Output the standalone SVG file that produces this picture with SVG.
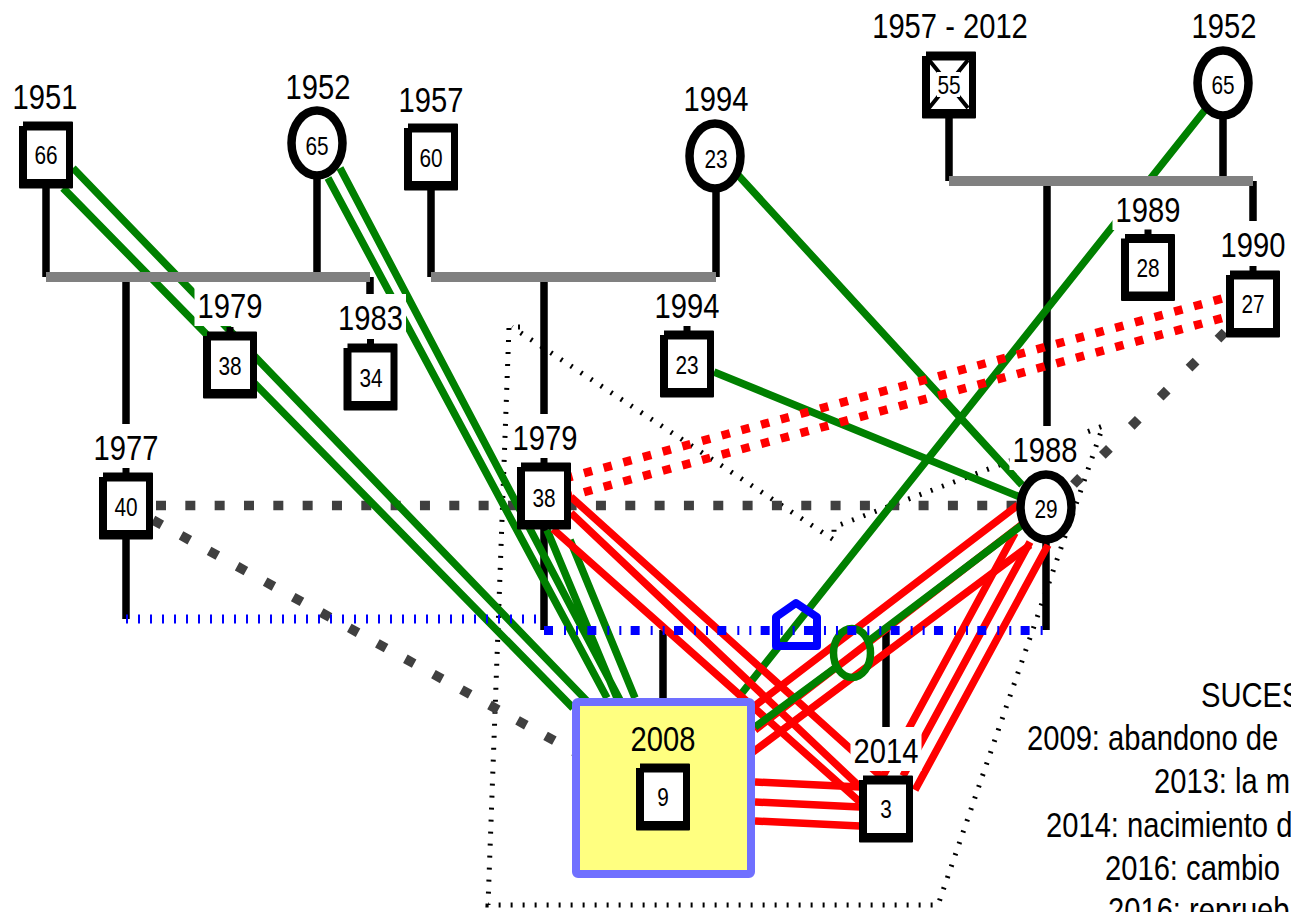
<svg xmlns="http://www.w3.org/2000/svg" xmlns:xlink="http://www.w3.org/1999/xlink" width="1291" height="912" viewBox="0 0 1291 912">
<style>
text{font-family:"Liberation Sans",Arial,sans-serif;fill:#000}
.y{font-size:36px;text-anchor:middle}
.a{font-size:26px;text-anchor:middle}
.l{font-size:36px;text-anchor:start}
.k{stroke:#000;stroke-width:7.5;fill:none}
.bar{stroke:#808080;stroke-width:10;fill:none}
.g{stroke:#008000;stroke-width:7.5;fill:none}
.r{stroke:#f00;stroke-width:7.5;fill:none}
.rd{stroke:#f00;stroke-width:8.5;stroke-dasharray:8.5 11.9;fill:none}
.gd{stroke:#404040;stroke-width:9.5;stroke-dasharray:10 19.33;fill:none}
.gd2{stroke:#404040;stroke-width:9.5;stroke-dasharray:10 22;fill:none}
.gd3{stroke:#404040;stroke-width:9.5;stroke-dasharray:10 31;fill:none}
.dot{stroke:#000;stroke-width:5;stroke-dasharray:2 10;fill:none}
.b1{stroke:#00f;stroke-width:9;stroke-dasharray:2 10;fill:none}
.b2{stroke:#00f;stroke-width:9;stroke-dasharray:9 11 2 10 2 9.33;fill:none}
.box{fill:#fff}
.c{fill:#fff;stroke:#000;stroke-width:8.5}
</style>
<defs>
<g id="sq"><path d="M-23,-33.5H26Q27,-33.5 27,-32.5V32.5Q27,33.5 26,33.5H-26Q-27,33.5 -27,32.5V-29H-23Z" fill="#000"/><rect x="-19" y="-24.5" width="39" height="48.5" fill="#fff"/></g>
<rect id="tab" x="-3.5" y="-38" width="7" height="6" fill="#000"/>
<rect id="lb" x="-35.5" y="-36" width="71" height="44" fill="#fff"/>
</defs>

<g id="connectors">
<path class="k" d="M46,187V277M317,176V277M126,282V424M370,277V300M431,190V277M716,190V277M544,282V424M949,118V181M1223,118V181M1047,186V428M1253,181V225M126,539V619M544,529V630M1046,537V630M663,630V700M886,630V730"/>
<path class="dot" d="M520,327H509L488,905H938L1103,426L834,527V540L512,327"/>
<path class="gd" d="M156,505.5H1017"/>
<path class="gd2" d="M153,520L575,752"/>
<path class="gd3" d="M1225,332L1068,490"/>
<g class="g">
<path d="M73,168L588,702M63,188L573,708M340,168L620,700M328,178L607,698M547,530L617,698M570,540L635,698"/>
<path d="M738,175L1022,485M714,372L1020,497M1205,110L738,698"/>
</g>
<g class="r">
<path d="M571,497L885,780M571,513L860,787M553,529L860,802"/>
<path d="M1018,505L752,708M1025,522L755,730M1030,545L753,752"/>
<path d="M1015,533L883,776M1030,542L903,776M1048,545L915,790"/>
<path d="M755,782L860,787M755,802L860,807M755,821L860,826"/>
</g>
<path class="g" d="M1022,525L870,640M835,668L755,727"/>
<ellipse class="g" cx="852" cy="653" rx="18.5" ry="24.5"/>
<path class="rd" d="M564.3,478.6L1226,297.5M564.3,497.6L1226,317"/>
<path class="bar" d="M46,277H370M431,277H716M949,181H1253"/>
<path class="b1" d="M126,619H544"/>
<path class="b2" d="M544,630.5H1046"/>
<path d="M776,617L796,603L817,617V646H776Z" fill="none" stroke="#00f" stroke-width="8" stroke-linejoin="round"/>
</g>

<g id="n2008"><rect x="576" y="702" width="175" height="172" rx="2" fill="#ffff80" stroke="#7070ff" stroke-width="8"/><text class="y" transform="matrix(.81 0 0 1 663 751)">2008</text><use href="#sq" x="663" y="797"/><text class="a" transform="matrix(.8 0 0 1 663 806)">9</text></g>
<g id="n1951"><use href="#sq" x="46" y="155"/><text class="y" transform="matrix(.81 0 0 1 45 109)">1951</text><text class="a" transform="matrix(.8 0 0 1 46 164)">66</text></g>
<g id="n1952a"><ellipse class="c" cx="317" cy="143" rx="25.5" ry="32.5"/><text class="y" transform="matrix(.81 0 0 1 318 99)">1952</text><text class="a" transform="matrix(.8 0 0 1 317 155)">65</text></g>
<g id="n1957"><use href="#sq" x="431" y="157"/><text class="y" transform="matrix(.81 0 0 1 431 112)">1957</text><text class="a" transform="matrix(.8 0 0 1 431 167)">60</text></g>
<g id="n1994a"><ellipse class="c" cx="715" cy="156" rx="25.5" ry="32.5"/><text class="y" transform="matrix(.81 0 0 1 716 111)">1994</text><text class="a" transform="matrix(.8 0 0 1 716 168)">23</text></g>
<g id="n5512"><use href="#sq" x="949" y="85"/><path d="M929,60L968,108M968,60L929,108" stroke="#000" stroke-width="4"/><rect x="937" y="72" width="23" height="25" fill="#fff"/><text class="y" transform="matrix(.81 0 0 1 950 38)">1957 - 2012</text><text class="a" transform="matrix(.8 0 0 1 949 94)">55</text></g>
<g id="n1952b"><ellipse class="c" cx="1223" cy="83" rx="25.5" ry="32.5"/><text class="y" transform="matrix(.81 0 0 1 1224 38)">1952</text><text class="a" transform="matrix(.8 0 0 1 1223 94)">65</text></g>
<g id="n1979a"><use href="#lb" x="230" y="318"/><use href="#tab" x="230" y="365"/><use href="#sq" x="230" y="365"/><text class="y" transform="matrix(.81 0 0 1 230 318)">1979</text><text class="a" transform="matrix(.8 0 0 1 230 375)">38</text></g>
<g id="n1983"><use href="#lb" x="370.500" y="330"/><use href="#tab" x="370.500" y="377"/><use href="#sq" x="370.500" y="377"/><text class="y" transform="matrix(.81 0 0 1 370.500 330)">1983</text><text class="a" transform="matrix(.8 0 0 1 371 387)">34</text></g>
<g id="n1994b"><use href="#lb" x="687" y="318"/><use href="#tab" x="687" y="364"/><use href="#sq" x="687" y="364"/><text class="y" transform="matrix(.81 0 0 1 687 318)">1994</text><text class="a" transform="matrix(.8 0 0 1 687 374)">23</text></g>
<g id="n1977"><use href="#lb" x="126" y="460"/><use href="#tab" x="126" y="506"/><use href="#sq" x="126" y="506"/><text class="y" transform="matrix(.81 0 0 1 126 460)">1977</text><text class="a" transform="matrix(.8 0 0 1 126 516)">40</text></g>
<g id="n1979b"><use href="#lb" x="545" y="450"/><use href="#tab" x="544" y="496"/><use href="#sq" x="544" y="496"/><text class="y" transform="matrix(.81 0 0 1 545 450)">1979</text><text class="a" transform="matrix(.8 0 0 1 544 507)">38</text></g>
<g id="n1989"><use href="#lb" x="1148" y="222"/><use href="#tab" x="1148" y="267.500"/><use href="#sq" x="1148" y="267.500"/><text class="y" transform="matrix(.81 0 0 1 1148 222)">1989</text><text class="a" transform="matrix(.8 0 0 1 1148 277)">28</text></g>
<g id="n1990"><use href="#lb" x="1253" y="257"/><use href="#tab" x="1253" y="304"/><use href="#sq" x="1253" y="304"/><text class="y" transform="matrix(.81 0 0 1 1253 257)">1990</text><text class="a" transform="matrix(.8 0 0 1 1253 313)">27</text></g>
<g id="n1988"><use href="#lb" x="1045" y="462"/><ellipse class="c" cx="1046" cy="507" rx="25.5" ry="32.5"/><text class="y" transform="matrix(.81 0 0 1 1045 462)">1988</text><text class="a" transform="matrix(.8 0 0 1 1046 518)">29</text></g>
<g id="n2014"><use href="#lb" x="886" y="763"/><use href="#sq" x="886" y="809"/><text class="y" transform="matrix(.81 0 0 1 886 763)">2014</text><text class="a" transform="matrix(.8 0 0 1 886 818)">3</text></g>
<g id="legend">
<text class="l" transform="matrix(.81 0 0 1 1201 707)">SUCES</text>
<text class="l" transform="matrix(.81 0 0 1 1027 750)">2009: abandono de</text>
<text class="l" transform="matrix(.81 0 0 1 1154 793)">2013: la m</text>
<text class="l" transform="matrix(.81 0 0 1 1046 837)">2014: nacimiento d</text>
<text class="l" transform="matrix(.81 0 0 1 1105 880)">2016: cambio</text>
<text class="l" transform="matrix(.81 0 0 1 1108 922)">2016: reprueb</text>
</g>
</svg>
